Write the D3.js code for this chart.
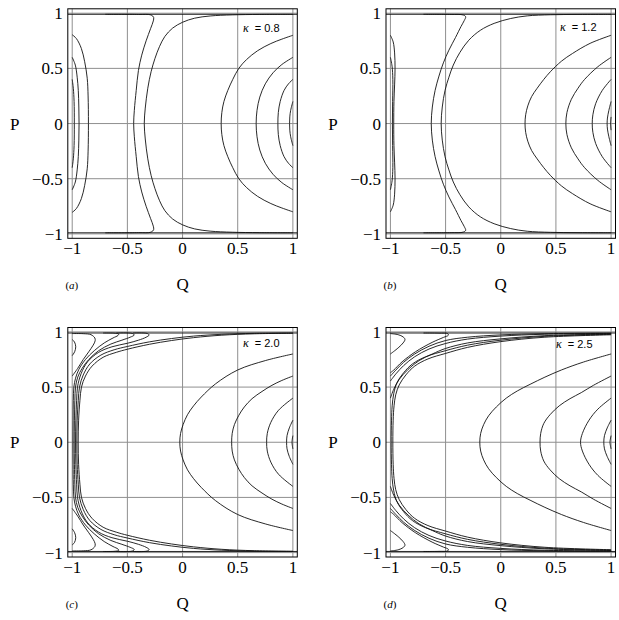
<html lang="en">
<head>
  <meta charset="UTF-8"/>
  <title>Phase portraits</title>
  <script src="https://d3js.org/d3.v7.min.js"></script>
  <style>
    body { margin: 0; background: #fff; }
    text { font-family: "Liberation Serif", "Times New Roman", serif; fill: #000; }
  </style>
</head>
<body>
<svg id="chart" width="619" height="620" font-family="Liberation Serif"></svg>
<script>
// tick values shared by every panel
var qTicks = [-1, -0.5, 0, 0.5, 1];
var pTicks = [-1, -0.5, 0, 0.5, 1];
var tickLabels = ["\u22121", "\u22120.5", "0", "0.5", "1"];

var kappas = ["0.8", "1.2", "2.0", "2.5"];
var tags = ["a", "b", "c", "d"];

// level line that runs along P = +-1
var edgeP = 0.99;

// contour curves, upper half only (P >= 0); mirrored in P when drawn.
// a curve that starts on P = 0 is joined with its mirror image.
var curvesA = [
  [[-0.443,0],[-0.437,0.12],[-0.42,0.3],[-0.40,0.48],[-0.37,0.62],[-0.33,0.75],[-0.29,0.86],[-0.265,0.93],[-0.262,0.962],[-0.285,0.984],[-0.4,0.989],[-0.7,0.99]],
  [[-0.347,0],[-0.338,0.14],[-0.315,0.32],[-0.285,0.47],[-0.25,0.59],[-0.208,0.70],[-0.16,0.79],[-0.09,0.865],[0.0,0.918],[0.11,0.955],[0.25,0.975],[0.45,0.985],[0.7,0.989],[1.0,0.99]],
  [[-0.853,0],[-0.856,0.25],[-0.864,0.41],[-0.887,0.56],[-0.917,0.68],[-0.962,0.77],[-1,0.805]],
  [[-0.938,0],[-0.94,0.15],[-0.945,0.3],[-0.955,0.42],[-0.972,0.53],[-1,0.6]],
  [[-0.981,0],[-0.983,0.2],[-0.99,0.32],[-1,0.4]],
  [[0.35,0],[0.356,0.1],[0.375,0.2],[0.41,0.3],[0.455,0.4],[0.51,0.5],[0.58,0.58],[0.68,0.66],[0.8,0.725],[0.9,0.765],[1,0.8]],
  [[0.667,0],[0.675,0.12],[0.70,0.24],[0.75,0.36],[0.82,0.46],[0.9,0.535],[1,0.6]],
  [[0.864,0],[0.868,0.1],[0.885,0.2],[0.92,0.3],[0.96,0.36],[1,0.4]],
  [[0.97,0],[0.972,0.06],[0.98,0.12],[1,0.2]]
];

var curvesB = [
  [[-0.63,0],[-0.62,0.15],[-0.595,0.3],[-0.56,0.43],[-0.52,0.55],[-0.47,0.665],[-0.41,0.78],[-0.36,0.88],[-0.33,0.935],[-0.318,0.968],[-0.34,0.984],[-0.45,0.989],[-0.7,0.99]],
  [[-0.54,0],[-0.53,0.15],[-0.505,0.3],[-0.47,0.42],[-0.43,0.53],[-0.37,0.645],[-0.29,0.755],[-0.185,0.845],[-0.06,0.908],[0.09,0.952],[0.24,0.976],[0.45,0.986],[0.7,0.989],[1,0.99]],
  [[-0.97,0],[-0.968,0.2],[-0.962,0.35],[-0.958,0.5],[-0.962,0.64],[-0.975,0.74],[-1,0.8]],
  [[-0.982,0],[-0.98,0.2],[-0.978,0.4],[-0.985,0.52],[-1,0.6]],
  [[0.22,0],[0.226,0.08],[0.245,0.16],[0.28,0.245],[0.33,0.32],[0.39,0.4],[0.45,0.47],[0.55,0.565],[0.65,0.635],[0.81,0.727],[1,0.8]],
  [[0.59,0],[0.6,0.1],[0.64,0.22],[0.7,0.32],[0.76,0.4],[0.88,0.515],[1,0.6]],
  [[0.829,0],[0.835,0.08],[0.86,0.18],[0.92,0.3],[1,0.4]],
  [[0.964,0],[0.967,0.05],[0.98,0.12],[1,0.2]],
  [[0.995,0],[1,0.06]]
];

var curvesC = [
  [[-1,0.93],[-0.98,0.91],[-0.968,0.865],[-0.978,0.82],[-1,0.785]],
  [[-1,0.985],[-0.9,0.984],[-0.83,0.975],[-0.795,0.945],[-0.792,0.92],[-0.81,0.88],[-0.85,0.82],[-0.9,0.75],[-0.95,0.67],[-1,0.6]],
  [[-0.993,0],[-0.992,0.2],[-0.99,0.38],[-0.985,0.5],[-0.97,0.58],[-0.94,0.66],[-0.88,0.75],[-0.8,0.83],[-0.71,0.9],[-0.63,0.945],[-0.585,0.968],[-0.578,0.98],[-0.61,0.988],[-0.72,0.99]],
  [[-0.982,0],[-0.98,0.2],[-0.976,0.38],[-0.97,0.5],[-0.95,0.59],[-0.91,0.67],[-0.85,0.75],[-0.76,0.83],[-0.65,0.89],[-0.55,0.925],[-0.475,0.952],[-0.438,0.972],[-0.455,0.986],[-0.6,0.99]],
  [[-0.97,0],[-0.967,0.2],[-0.96,0.38],[-0.952,0.5],[-0.92,0.62],[-0.86,0.73],[-0.76,0.815],[-0.64,0.865],[-0.5,0.897],[-0.4,0.925],[-0.33,0.952],[-0.303,0.972],[-0.32,0.986],[-0.45,0.99]],
  [[-0.958,0],[-0.955,0.2],[-0.945,0.38],[-0.934,0.5],[-0.9,0.61],[-0.84,0.71],[-0.74,0.79],[-0.62,0.838],[-0.5,0.868],[-0.3,0.91],[-0.1,0.94],[0.1,0.962],[0.35,0.978],[0.65,0.987],[1,0.99]],
  [[-0.946,0],[-0.942,0.2],[-0.93,0.38],[-0.916,0.5],[-0.88,0.6],[-0.82,0.69],[-0.72,0.77],[-0.6,0.815],[-0.5,0.843],[-0.3,0.888],[-0.1,0.922],[0.1,0.948],[0.35,0.97],[0.65,0.983],[1,0.988]],
  [[-0.025,0],[-0.018,0.08],[0.005,0.16],[0.045,0.25],[0.1,0.33],[0.17,0.41],[0.3,0.53],[0.5,0.655],[0.75,0.74],[1,0.8]],
  [[0.445,0],[0.45,0.08],[0.47,0.16],[0.51,0.244],[0.56,0.32],[0.63,0.395],[0.72,0.46],[0.81,0.516],[0.9,0.56],[1,0.6]],
  [[0.762,0],[0.768,0.08],[0.8,0.18],[0.87,0.29],[1,0.4]],
  [[0.943,0],[0.947,0.06],[0.968,0.13],[1,0.2]],
  [[0.992,0],[1,0.06]]
];

var curvesD = [
  [[-1,0.985],[-0.93,0.975],[-0.885,0.955],[-0.868,0.932],[-0.885,0.9],[-0.93,0.855],[-1,0.8]],
  [[-1,0.63],[-0.97,0.654],[-0.894,0.729],[-0.773,0.82],[-0.622,0.905],[-0.52,0.95],[-0.475,0.97],[-0.48,0.984],[-0.56,0.989],[-0.7,0.99]],
  [[-1,0.6],[-0.95,0.655],[-0.88,0.725],[-0.78,0.8],[-0.65,0.87],[-0.5,0.922],[-0.3,0.952],[0,0.973],[0.4,0.984],[1,0.989]],
  [[-1,0.555],[-0.95,0.62],[-0.88,0.695],[-0.78,0.775],[-0.65,0.845],[-0.5,0.895],[-0.3,0.935],[0,0.962],[0.4,0.979],[1,0.986]],
  [[-1,0.4],[-0.97,0.48],[-0.92,0.57],[-0.84,0.66],[-0.74,0.74],[-0.62,0.8],[-0.5,0.85],[-0.3,0.9],[0,0.937],[0.4,0.966],[1,0.981]],
  [[-0.993,0],[-0.99,0.2],[-0.984,0.33],[-0.97,0.44],[-0.94,0.54],[-0.88,0.63],[-0.8,0.71],[-0.68,0.775],[-0.5,0.83],[-0.3,0.88],[0,0.925],[0.4,0.96],[1,0.978]],
  [[-0.978,0],[-0.975,0.2],[-0.967,0.33],[-0.952,0.43],[-0.92,0.52],[-0.86,0.61],[-0.78,0.69],[-0.66,0.755],[-0.5,0.805],[-0.3,0.86],[0,0.912],[0.4,0.952],[1,0.974]],
  [[-0.19,0],[-0.182,0.08],[-0.155,0.16],[-0.11,0.24],[-0.04,0.32],[0.05,0.4],[0.15,0.465],[0.266,0.525],[0.4,0.59],[0.55,0.655],[0.75,0.727],[1,0.8]],
  [[0.356,0],[0.362,0.08],[0.39,0.17],[0.447,0.25],[0.53,0.33],[0.628,0.395],[0.73,0.45],[0.84,0.516],[1,0.6]],
  [[0.723,0],[0.74,0.08],[0.8,0.2],[0.88,0.3],[1,0.4]],
  [[0.934,0],[0.94,0.06],[0.965,0.13],[1,0.2]],
  [[0.99,0],[1,0.06]]
];

var allCurves = [curvesA, curvesB, curvesC, curvesD];

var svg = d3.select("#chart");
var size = 229.5;
var pad = 0.04;
var origins = [[67.8, 8.8], [386, 8.8], [67.8, 327.5], [386, 327.5]];
var kappaPos = [[243, 32], [560, 31], [243, 347], [556, 348]];

allCurves.forEach(function(curves, i) {
  var ox = origins[i][0], oy = origins[i][1];
  var x = d3.scaleLinear().domain([-1 - pad, 1 + pad]).range([ox, ox + size]);
  var y = d3.scaleLinear().domain([-1 - pad, 1 + pad]).range([oy + size, oy]);

  var g = svg.append("g");

  g.append("clipPath").attr("id", "clip" + i)
    .append("rect").attr("x", ox).attr("y", oy).attr("width", size).attr("height", size);

  // grid
  g.selectAll(".vg").data(qTicks).enter().append("line")
    .attr("x1", function(d){ return x(d); }).attr("x2", function(d){ return x(d); })
    .attr("y1", oy).attr("y2", oy + size)
    .style("stroke", "#8f8f8f").style("stroke-width", 1);
  g.selectAll(".hg").data(pTicks).enter().append("line")
    .attr("y1", function(d){ return y(d); }).attr("y2", function(d){ return y(d); })
    .attr("x1", ox).attr("x2", ox + size)
    .style("stroke", "#8f8f8f").style("stroke-width", 1);

  var line = d3.line()
    .x(function(d){ return x(d[0]); })
    .y(function(d){ return y(d[1]); })
    .curve(d3.curveCatmullRom.alpha(0.5));

  var paths = [];
  curves.forEach(function(c) {
    var mirror = c.map(function(d){ return [d[0], -d[1]]; });
    if (c[0][1] === 0) {
      paths.push(mirror.slice(1).reverse().concat(c));
    } else {
      paths.push(c);
      paths.push(mirror);
    }
  });
  paths.push([[-1 - pad, edgeP], [1 + pad, edgeP]]);
  paths.push([[-1 - pad, -edgeP], [1 + pad, -edgeP]]);

  g.append("g").attr("clip-path", "url(#clip" + i + ")")
    .selectAll("path").data(paths).enter().append("path")
    .attr("d", line)
    .style("fill", "none").style("stroke", "#111").style("stroke-width", 0.9);

  // frame
  g.append("rect").attr("x", ox).attr("y", oy).attr("width", size).attr("height", size)
    .style("fill", "none").style("stroke", "#000").style("stroke-width", 1);

  // tick labels
  g.selectAll(".qt").data(qTicks).enter().append("text")
    .attr("x", function(d){ return x(d); })
    .attr("y", oy + size + 15.5)
    .attr("text-anchor", "middle")
    .style("font-size", "17px")
    .text(function(d, j){ return tickLabels[j]; });
  g.selectAll(".pt").data(pTicks).enter().append("text")
    .attr("x", ox - 5)
    .attr("y", function(d){ return y(d) + 6; })
    .attr("text-anchor", "end")
    .style("font-size", "17px")
    .text(function(d, j){ return tickLabels[j]; });

  // axis names
  g.append("text").attr("x", ox - 53).attr("y", y(0) + 6)
    .attr("text-anchor", "middle").style("font-size", "17px").text("P");
  g.append("text").attr("x", x(0)).attr("y", oy + size + 52)
    .attr("text-anchor", "middle").style("font-size", "17px").text("Q");

  // panel tag
  var tag = g.append("text").attr("x", ox + 4).attr("y", oy + size + 51)
    .attr("text-anchor", "middle").style("font-size", "11px");
  tag.append("tspan").text("(");
  tag.append("tspan").style("font-style", "italic").text(tags[i]);
  tag.append("tspan").text(")");

  // kappa label
  var kl = g.append("text").attr("x", kappaPos[i][0]).attr("y", kappaPos[i][1]).style("font-size", "12px");
  kl.append("tspan").style("font-style", "italic").text("\u03ba");
  kl.append("tspan").attr("dx", 6)
    .style("font-family", "'Liberation Sans', Arial, sans-serif").style("font-size", "11px")
    .text("= " + kappas[i]);
});
</script>
</body>
</html>
